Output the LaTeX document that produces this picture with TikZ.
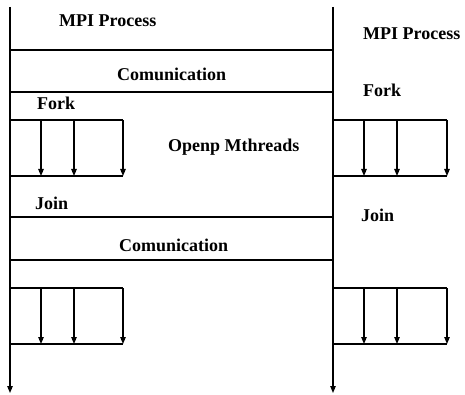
\documentclass[tikz,border=0pt]{standalone}
\usepackage{fontspec}
\setmainfont{Liberation Serif}
\usetikzlibrary{arrows.meta}
\tikzset{
  lbl/.style={anchor=base west, inner sep=0pt, font=\fontsize{18}{20}\selectfont\bfseries},
  ln/.style={line width=1.1pt},
  arr/.style={ln, -{Triangle[length=7pt,width=5.5pt]}}
}
\begin{document}
\begin{tikzpicture}[x=1pt,y=-1pt]
\useasboundingbox (0,0) rectangle (465,395);
% main process lines
\coordinate (Lt) at (10,7); \coordinate (Lb) at (10,393);
\coordinate (Rt) at (333,7); \coordinate (Rb) at (333,393);
\draw[arr] (Lt) -- (Lb);
\draw[arr] (Rt) -- (Rb);
% horizontal separators
\foreach \y in {50,92,217,260} \draw[ln] (10,\y) -- (333,\y);
% fork/join boxes
\foreach \x/\w in {10/123,333/447} {
  \foreach \t/\b in {120/176,288/344} {
    \draw[ln] (\x,\t) -- (\w,\t);
    \draw[ln] (\x,\b) -- (\w,\b);
    \foreach \d in {31,64} \draw[arr] (\x+\d,\t) -- (\x+\d,\b);
    \draw[arr] (\w,\t) -- (\w,\b);
  }
}
% labels
\node[lbl] (mpi1) at (59,27) {MPI Process};
\node[lbl] (com1) at (117,81) {Comunication};
\node[lbl] (fork1) at (37,110) {Fork};
\node[lbl] (omp) at (168,152) {Openp Mthreads};
\node[lbl] (join1) at (35,209) {Join};
\node[lbl] (com2) at (119,251) {Comunication};
\node[lbl] (mpi2) at (363,40) {MPI Process};
\node[lbl] (fork2) at (363,97) {Fork};
\node[lbl] (join2) at (361,222) {Join};
\end{tikzpicture}
\end{document}
